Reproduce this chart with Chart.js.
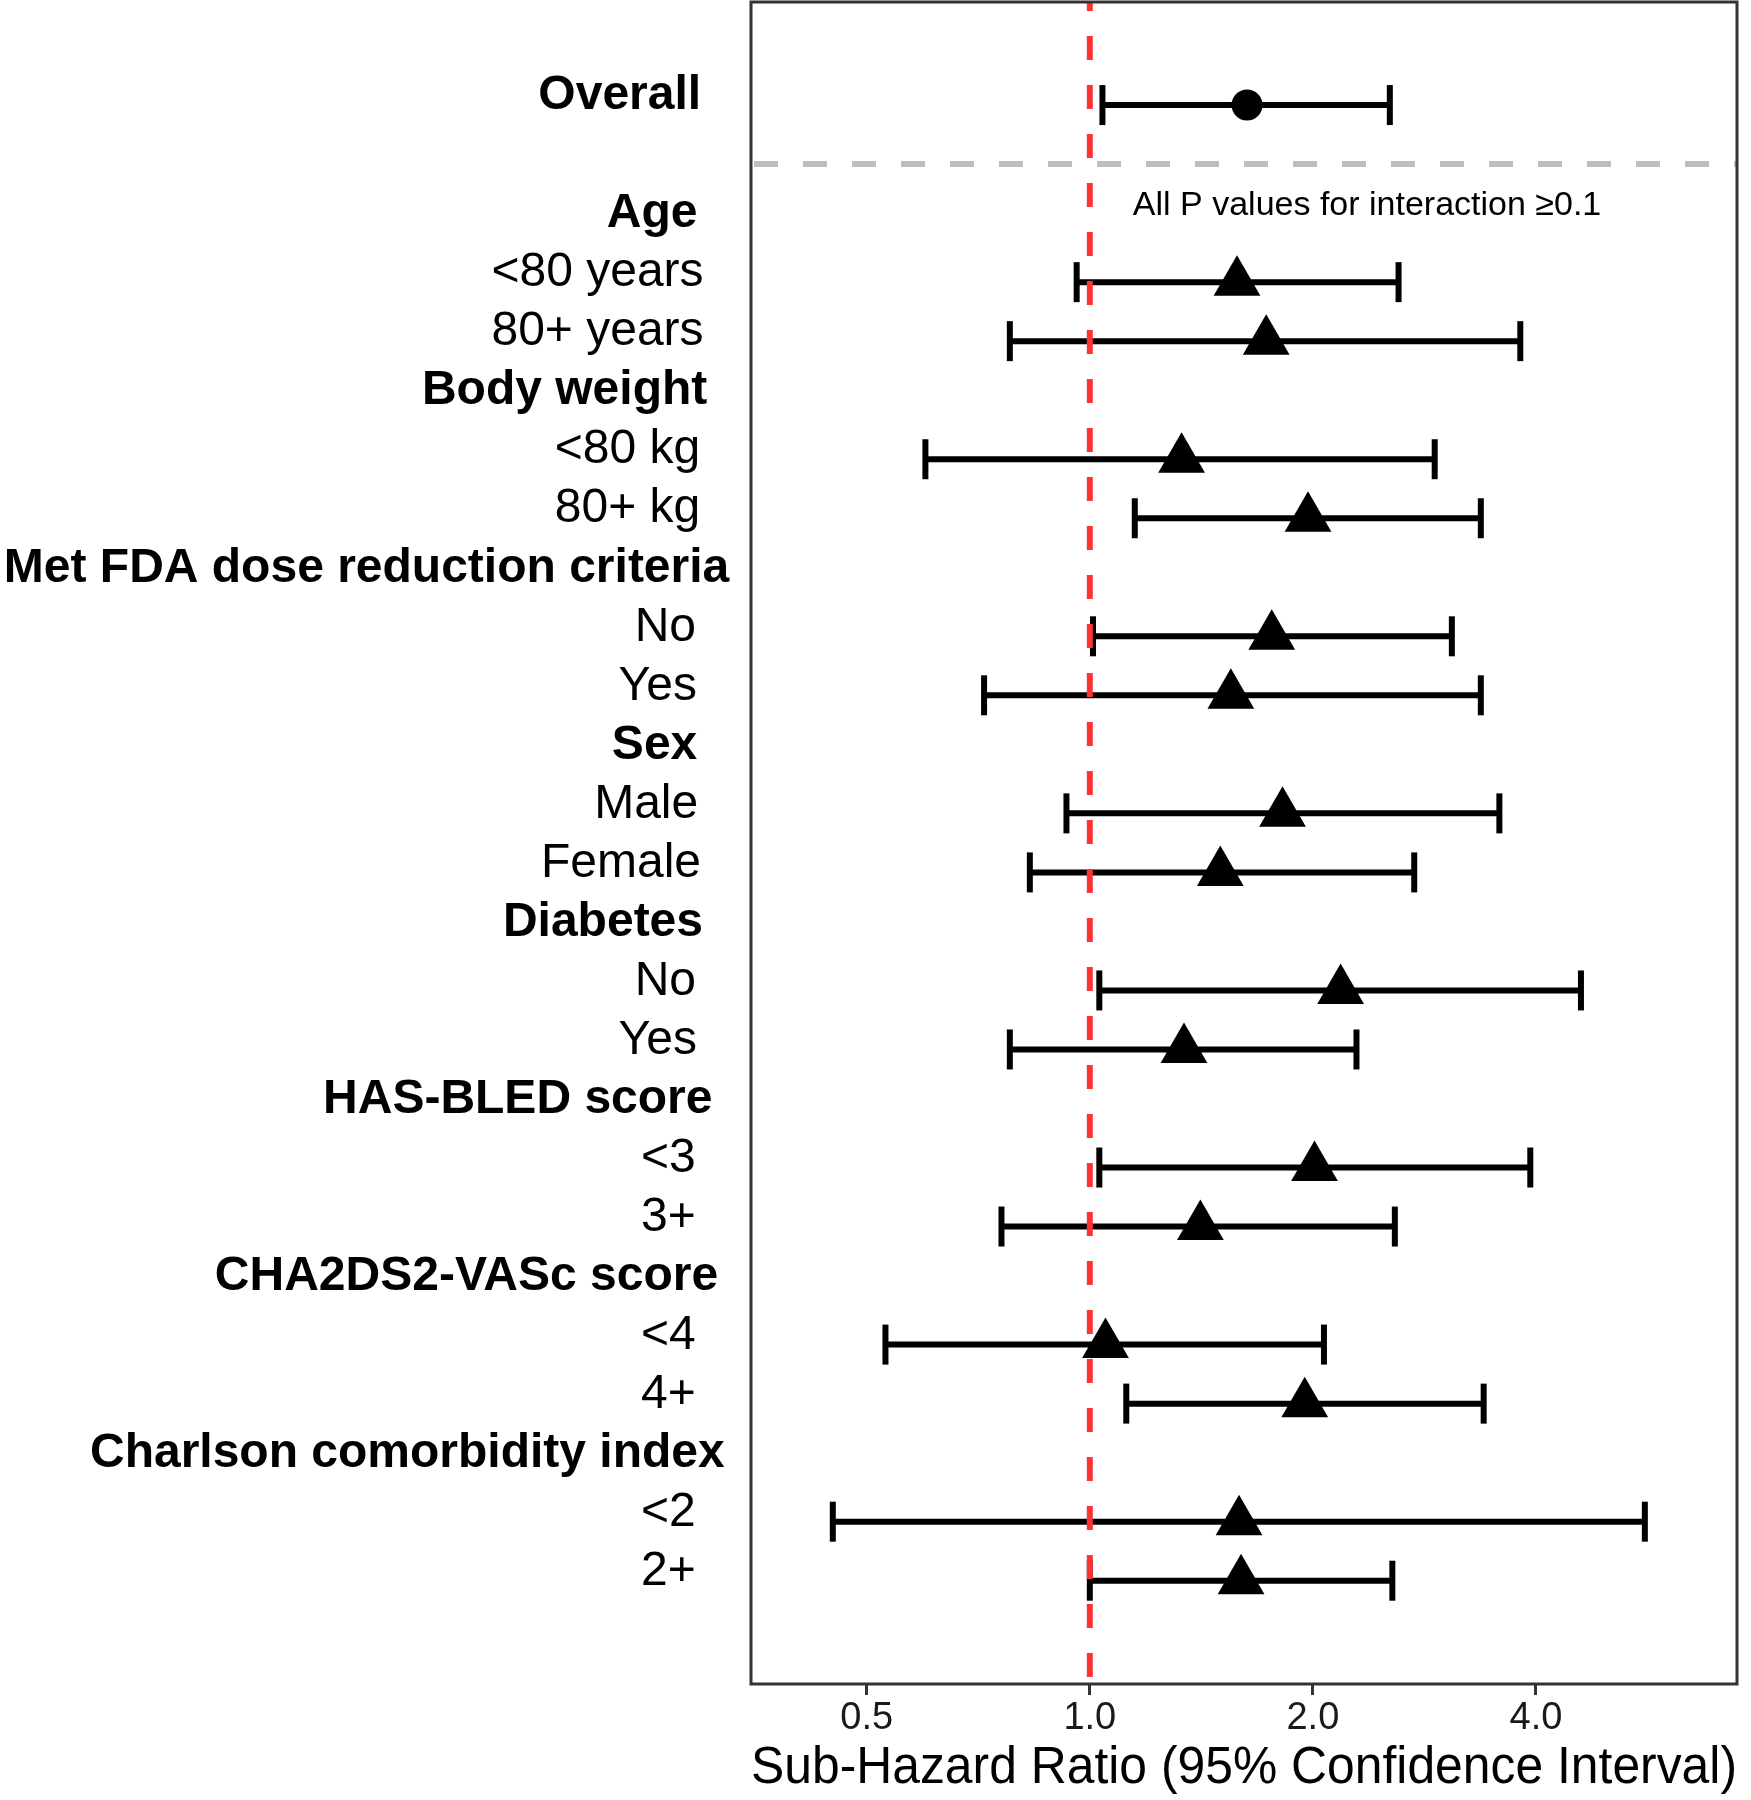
<!DOCTYPE html>
<html>
<head>
<meta charset="utf-8">
<script src="https://cdn.jsdelivr.net/npm/chart.js@4.4.1/dist/chart.umd.min.js"></script>
<style>
  html, body { margin: 0; padding: 0; background: #fff; }
  #wrap { width: 1751px; height: 1800px; }
</style>
</head>
<body>
<div id="wrap"><canvas id="forest"></canvas></div>
<script>
// y rows, top to bottom (row 1 is the gap under "Overall")
const rowLabels = ['Overall', '', 'Age', '<80 years', '80+ years', 'Body weight', '<80 kg', '80+ kg',
    'Met FDA dose reduction criteria', 'No', 'Yes', 'Sex', 'Male', 'Female', 'Diabetes', 'No', 'Yes',
    'HAS-BLED score', '<3', '3+', 'CHA2DS2-VASc score', '<4', '4+', 'Charlson comorbidity index', '<2', '2+'];
const headerRows = [0, 2, 5, 8, 11, 14, 17, 20, 23];

// estimates, one per plotted row
const estRows = [0, 3, 4, 6, 7, 9, 10, 12, 13, 15, 16, 18, 19, 21, 22, 24, 25];
const shr   = [1.63, 1.58, 1.73, 1.33, 1.97, 1.76, 1.55, 1.82, 1.50, 2.18, 1.34, 2.01, 1.41, 1.05, 1.95, 1.59, 1.60];
const lower = [1.04, 0.96, 0.78, 0.60, 1.15, 1.01, 0.72, 0.93, 0.83, 1.03, 0.78, 1.03, 0.76, 0.53, 1.12, 0.45, 1.00];
const upper = [2.54, 2.61, 3.81, 2.92, 3.37, 3.08, 3.37, 3.57, 2.74, 4.60, 2.29, 3.93, 2.58, 2.07, 3.40, 5.61, 2.56];

const xTicks = [0.5, 1.0, 2.0, 4.0];
const noteText = 'All P values for interaction \u22650.1';
const noteAt = { x: 1.143, y: 1.7 };
const refLine = 1;
const splitRow = 1;

const yMin = -1.746, yMax = 26.75;
const xMin = 0.349, xMax = 7.47;
const FONT = '"Liberation Sans", Arial, sans-serif';

const tickRows = rowLabels.map((l, i) => l ? i : null).filter(v => v !== null);

const whiskers = estRows.map((r, i) => ({
    type: 'line',
    data: [{ x: lower[i], y: r }, { x: upper[i], y: r }],
    borderColor: '#000',
    borderWidth: 6,
    pointRadius: 0,
    order: 4
}));

const caps = {
    type: 'scatter',
    data: estRows.flatMap((r, i) => [{ x: lower[i], y: r }, { x: upper[i], y: r }]),
    pointStyle: 'line',
    rotation: 90,
    pointRadius: 20,
    borderColor: '#000',
    borderWidth: 6,
    order: 3
};

const points = {
    type: 'scatter',
    data: estRows.map((r, i) => ({ x: shr[i], y: r })),
    pointStyle: estRows.map(r => r === 0 ? 'circle' : 'triangle'),
    pointRadius: estRows.map(r => r === 0 ? 15.5 : 27),
    backgroundColor: '#000',
    borderWidth: 0,
    order: 0
};

const vline = {
    type: 'line',
    data: [{ x: refLine, y: yMin }, { x: refLine, y: yMax }],
    borderColor: '#ff3333',
    borderWidth: 6,
    borderDash: [24, 25],
    borderDashOffset: 15,
    pointRadius: 0,
    order: 1
};

const hline = {
    type: 'line',
    data: [{ x: xMin, y: splitRow }, { x: xMax, y: splitRow }],
    borderColor: '#bebebe',
    borderWidth: 6,
    borderDash: [24, 25],
    borderDashOffset: 46,
    pointRadius: 0,
    order: 2
};

// the original's row labels sit a little right of a common edge, more so the wider they are
const nudgeLabels = {
    id: 'nudgeLabels',
    beforeDraw(chart) {
        const ys = chart.scales.y;
        const ctx = chart.ctx;
        ys.getLabelItems(chart.chartArea).forEach(item => {
            if (item._nudged) return;
            ctx.save();
            ctx.font = item.font.string;
            const w = ctx.measureText(item.label).width;
            ctx.restore();
            item.options.translation[0] += 0.05 * w - 10;
            item._nudged = true;
        });
    }
};

const panelBox = {
    id: 'panelBox',
    afterDatasetsDraw(chart) {
        const { ctx, chartArea: a, scales } = chart;
        ctx.save();
        ctx.font = '34px ' + FONT;
        ctx.fillStyle = '#000';
        ctx.textAlign = 'left';
        ctx.textBaseline = 'middle';
        ctx.fillText(noteText, scales.x.getPixelForValue(noteAt.x), scales.y.getPixelForValue(noteAt.y));
        ctx.strokeStyle = '#333';
        ctx.lineWidth = 3;
        ctx.strokeRect(a.left, a.top, a.right - a.left, a.bottom - a.top);
        ctx.restore();
    }
};

new Chart(document.getElementById('forest'), {
    type: 'scatter',
    data: { datasets: [...whiskers, caps, points, vline, hline] },
    plugins: [nudgeLabels, panelBox],
    options: {
        responsive: true,
        maintainAspectRatio: false,
        animation: false,
        events: [],
        layout: { autoPadding: false, padding: { top: 2, right: 14, left: 0, bottom: 0 } },
        plugins: { legend: { display: false }, tooltip: { enabled: false } },
        scales: {
            x: {
                type: 'logarithmic',
                bounds: 'data',
                min: xMin,
                max: xMax,
                afterBuildTicks: s => { s.ticks = xTicks.map(v => ({ value: v })); },
                afterFit: s => { s.height = 116; s.paddingLeft = 0; s.paddingRight = 0; },
                border: { display: false },
                grid: { drawOnChartArea: false, drawTicks: true, tickLength: 11, tickWidth: 3, tickColor: '#333' },
                ticks: {
                    padding: 1,
                    color: '#1a1a1a',
                    font: { family: FONT, size: 38 },
                    callback: v => Number(v).toFixed(1)
                },
                title: {
                    display: true,
                    text: 'Sub-Hazard Ratio (95% Confidence Interval)',
                    color: '#000',
                    font: { family: FONT, size: 51 },
                    padding: { top: 0, bottom: 0 }
                }
            },
            y: {
                type: 'linear',
                reverse: true,
                bounds: 'data',
                min: yMin,
                max: yMax,
                afterBuildTicks: s => { s.ticks = tickRows.map(v => ({ value: v })); },
                afterFit: s => { s.width = 751; s.paddingTop = 0; s.paddingBottom = 0; },
                border: { display: false },
                grid: { display: true, drawOnChartArea: false, drawTicks: true, tickLength: 48, tickColor: 'rgba(0,0,0,0)' },
                ticks: {
                    padding: 0,
                    labelOffset: -9,
                    color: '#000',
                    autoSkip: false,
                    font: c => ({ family: FONT, size: 48, weight: headerRows.includes(tickRows[c.index]) ? 'bold' : 'normal' }),
                    callback: (v, i) => rowLabels[tickRows[i]]
                }
            }
        }
    }
});
</script>
</body>
</html>
